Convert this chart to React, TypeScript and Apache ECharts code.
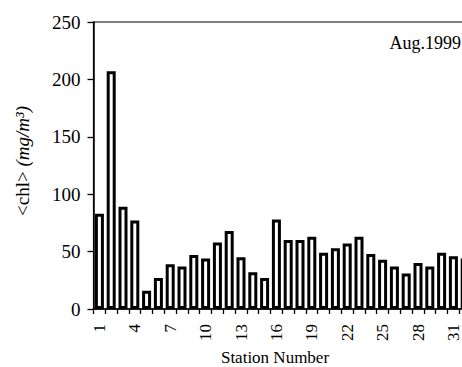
import React, { useEffect, useRef } from "react";
import * as echarts from "echarts";

const stations: string[] = Array.from({ length: 33 }, (_, i) => String(i + 1));
const chl: (number | null)[] = [
  83, 207, 89, 77, 16, 27, 39, 37, 47, 44, 58, 68, 45, 32, 27, 78,
  60, 60, 63, 49, 53, 57, 63, 48, 43, 37, 31, 40, 37, 49, 46, 44, 44,
];
const yTicks = { min: 0, max: 250, interval: 50 };
const labels = {
  yTitle: "<chl> ",
  yUnit: "(mg/m³)",
  xTitle: "Station Number",
  note: "Aug.1999",
};

const FONT = "'Liberation Serif', 'Times New Roman', serif";

export default function App() {
  const ref = useRef<HTMLDivElement>(null);
  useEffect(() => {
    if (!ref.current) return;
    const chart = echarts.init(ref.current, undefined, { renderer: "svg" });
    chart.setOption({
      animation: false,
      backgroundColor: "#fff",
      grid: {
        left: 93.5,
        top: 22,
        width: 33 * 11.8,
        height: 287,
        show: true,
        borderColor: "#000",
        borderWidth: 1.2,
        backgroundColor: "transparent",
      },
      xAxis: {
        type: "category",
        data: stations,
        boundaryGap: true,
        axisLine: { show: true, lineStyle: { color: "#000", width: 1.5 } },
        axisTick: { show: true, interval: 0, length: 5, lineStyle: { color: "#000", width: 1.3 } },
        axisLabel: {
          interval: 2,
          rotate: 90,
          margin: 15,
          color: "#000",
          fontFamily: FONT,
          fontSize: 17,
        },
        splitLine: { show: false },
      },
      yAxis: {
        type: "value",
        min: yTicks.min,
        max: yTicks.max,
        interval: yTicks.interval,
        axisLine: { show: true, lineStyle: { color: "#000", width: 1.5 } },
        axisTick: { show: true, length: 6, lineStyle: { color: "#000", width: 1.3 } },
        axisLabel: { color: "#000", fontFamily: FONT, fontSize: 19, margin: 13 },
        splitLine: { show: false },
      },
      series: [
        {
          type: "bar",
          data: chl,
          barWidth: 9,
          itemStyle: { color: "#fff", borderColor: "#000", borderWidth: 3 },
        },
      ],
      graphic: [
        {
          type: "text",
          x: 22,
          y: 161,
          rotation: Math.PI / 2,
          style: {
            text: labels.yTitle + "{i|" + labels.yUnit + "}",
            rich: { i: { fontStyle: "italic", fontFamily: FONT, fontSize: 19, fill: "#000" } },
            fontFamily: FONT,
            fontSize: 19,
            fill: "#000",
            align: "center",
            verticalAlign: "middle",
            textAlign: "center",
            textVerticalAlign: "middle",
          },
        },
        {
          type: "text",
          x: 461,
          y: 43,
          style: {
            text: labels.note,
            fontFamily: FONT,
            fontSize: 18,
            fill: "#000",
            align: "right",
            verticalAlign: "middle",
            textAlign: "right",
            textVerticalAlign: "middle",
          },
        },
        {
          type: "text",
          x: 275,
          y: 357,
          style: {
            text: labels.xTitle,
            fontFamily: FONT,
            fontSize: 17,
            fill: "#000",
            align: "center",
            verticalAlign: "middle",
            textAlign: "center",
            textVerticalAlign: "middle",
          },
        },
      ],
    });
    return () => chart.dispose();
  }, []);
  return (
    <div
      style={{
        position: "fixed",
        left: 0,
        top: 0,
        width: 462,
        height: 367,
        overflow: "hidden",
        background: "#fff",
      }}
    >
      <div ref={ref} style={{ width: 500, height: 367 }} />
    </div>
  );
}
